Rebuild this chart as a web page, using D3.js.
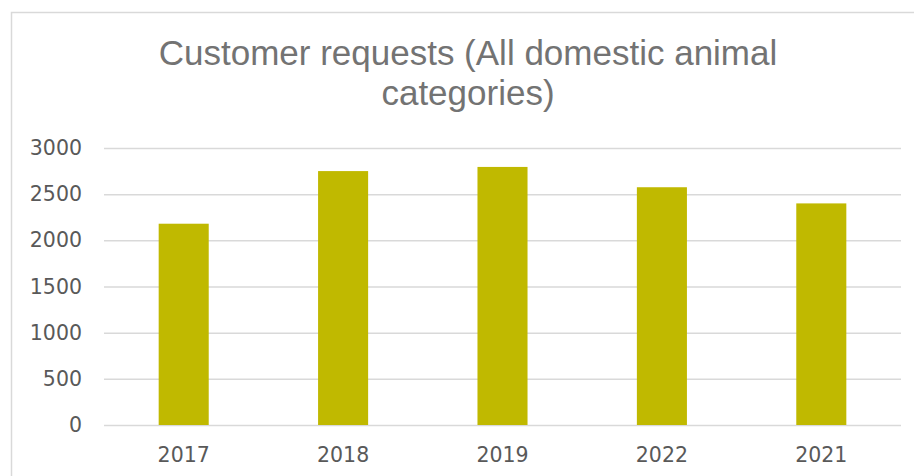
<!DOCTYPE html>
<html>
<head>
<meta charset="utf-8">
<script src="https://cdn.jsdelivr.net/npm/d3@7"></script>
<style>
  body { margin: 0; background: #fff; }
</style>
</head>
<body>
<div id="chart"></div>
<script>
var years = ["2017", "2018", "2019", "2022", "2021"];
var requests = [2180, 2750, 2795, 2575, 2400];
var yTicks = [0, 500, 1000, 1500, 2000, 2500, 3000];
var titleLines = ["Customer requests (All domestic animal", "categories)"];

var svgWidth = 914;
var svgHeight = 476;
var margin = {top: 148, right: 13, bottom: 51, left: 104};

var svg = d3.select("#chart")
    .append("svg")
        .attr("width", svgWidth)
        .attr("height", svgHeight);

// chart area border (right and bottom edges fall outside the picture)
svg.append("rect")
    .attr("x", 11.5)
    .attr("y", 12.5)
    .attr("width", 940)
    .attr("height", 500)
    .attr("fill", "none")
    .attr("stroke", "#d9d9d9")
    .attr("stroke-width", 1.5);

var x = d3.scaleBand()
    .domain(years)
    .range([margin.left, svgWidth - margin.right])
    .paddingInner(0.686)
    .paddingOuter(0.343);

var y = d3.scaleLinear()
    .domain([0, 3000])
    .range([svgHeight - margin.bottom, margin.top]);

// gridlines + y labels
var yAxis = d3.axisLeft(y)
    .tickValues(yTicks)
    .tickFormat(d3.format("d"))
    .tickSize(-(svgWidth - margin.left - margin.right))
    .tickPadding(22);

var gy = svg.append("g")
    .attr("transform", "translate(" + margin.left + ",0)")
    .call(yAxis);
gy.select(".domain").remove();
gy.selectAll(".tick line")
    .attr("stroke", "#d9d9d9")
    .attr("stroke-width", 1.5);
gy.selectAll(".tick text")
    .attr("font-family", "DejaVu Sans")
    .attr("font-size", 20.5)
    .attr("fill", "#595959");
gy.attr("font-family", null).attr("font-size", null);

// bars
svg.selectAll("rect.bar")
    .data(requests)
    .enter().append("rect")
    .classed("bar", true)
    .attr("x", function(d, i) { return x(years[i]); })
    .attr("width", x.bandwidth())
    .attr("y", function(d) { return y(d); })
    .attr("height", function(d) { return y(0) - y(d); })
    .attr("fill", "#c0b900");

// x labels
var xAxis = d3.axisBottom(x).tickSize(0).tickPadding(22);
var gx = svg.append("g")
    .attr("transform", "translate(0," + y(0) + ")")
    .call(xAxis);
gx.select(".domain").remove();
gx.attr("font-family", null).attr("font-size", null);
gx.selectAll(".tick text")
    .attr("font-family", "DejaVu Sans")
    .attr("font-size", 20.5)
    .attr("fill", "#595959");

// title
svg.selectAll("text.title")
    .data(titleLines)
    .enter().append("text")
    .classed("title", true)
    .attr("x", 468)
    .attr("y", function(d, i) { return 65 + i * 40; })
    .attr("text-anchor", "middle")
    .attr("font-family", "Liberation Sans")
    .attr("font-size", 35)
    .attr("fill", "#737373")
    .text(function(d) { return d; });
</script>
</body>
</html>
